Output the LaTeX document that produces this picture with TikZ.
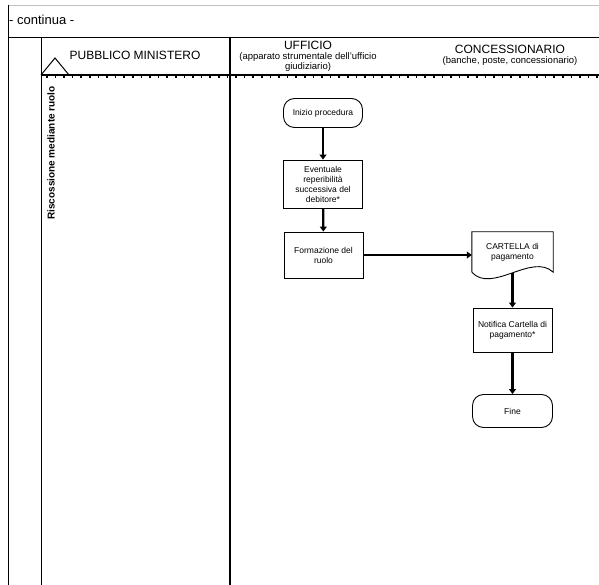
\documentclass[tikz,border=0pt]{standalone}
\usepackage{fontspec}
\setmainfont{Liberation Sans}
\usetikzlibrary{arrows.meta,positioning,calc}
\begin{document}
\begin{tikzpicture}[x=1pt,y=-1pt,
  frame/.style={line width=0.8pt,black},
  lanethick/.style={line width=2pt,black},
  flowbox/.style={draw,line width=0.9pt,minimum width=79pt,align=center,inner sep=1pt,font=\fontsize{8.5}{10}\selectfont},
  termbox/.style={flowbox,rounded corners=11pt},
  flow/.style={line width=2.2pt,-{Triangle[width=7pt,length=5pt]}},
  head/.style={font=\fontsize{12}{13}\selectfont,inner sep=0pt},
  subhead/.style={font=\fontsize{9.5}{10.5}\selectfont,inner sep=0pt,align=center}
]
\useasboundingbox (0,0) rectangle (599,585);
% frame
\draw[gray!50,line width=0.6pt] (8,5) -- (599,5);
\draw[frame] (8,5) -- (8,585);
\draw[frame] (8,37) -- (599,37);
\draw[frame] (41,37) -- (41,585);
\draw[lanethick] (230,37) -- (230,585);
\node[anchor=west,inner sep=0pt,font=\fontsize{13}{14}\selectfont] (cont) at (9,20) {- continua -};
% lane header separator
\draw[line width=1.2pt] (41,75) -- (599,75);
\draw[line width=2.6pt,dash pattern=on 1.6pt off 7pt] (46,77) -- (599,77);
\draw[line width=1pt] (41,75) -- (55,58) -- (69,75);
% headers
\node[head] (pm) at (135,55) {PUBBLICO MINISTERO};
\node[head] (uff) at (308,45.5) {UFFICIO};
\node[subhead,below=2pt of uff] (uffsub) {(apparato strumentale dell'ufficio\\giudiziario)};
\node[head] (conc) at (510,49) {CONCESSIONARIO};
\node[subhead,below=3pt of conc] (concsub) {(banche, poste, concessionario)};
\node[rotate=90,font=\bfseries\fontsize{10}{11}\selectfont,inner sep=0pt] (risc) at (51,153) {Riscossione mediante ruolo};
% nodes
\node[termbox,minimum height=29pt] (inizio) at (323,113) {Inizio procedura};
\node[flowbox,minimum height=48pt] (event) at (323,184) {Eventuale\\reperibilità\\successiva del\\debitore*};
\node[flowbox,minimum height=46pt] (formaz) at (323.5,255) {Formazione del\\ruolo};
\node[minimum width=81pt,minimum height=40pt,inner sep=1pt,align=center,font=\fontsize{8.5}{10}\selectfont] (cart) at (512.5,252) {CARTELLA di\\pagamento};
\draw[line width=0.9pt] (cart.south west) -- (cart.north west) -- (cart.north east) -- (cart.south east)
  .. controls ($(cart.south east)+(-21,-20)$) and ($(cart.south west)+(20,22)$) .. (cart.south west);
\node[flowbox,minimum height=44pt] (notif) at (512.5,330) {Notifica Cartella di\\pagamento*};
\node[termbox,minimum height=33pt,minimum width=80pt] (fine) at (512.5,411) {Fine};
% connectors
\draw[flow] (inizio) -- (event);
\draw[flow] (event) -- (formaz);
\draw[flow] (formaz.east) -- (formaz.east -| cart.west);
\draw[flow] (cart.south) ++(0,1) -- (notif.north);
\draw[flow] (notif) -- (fine);
\end{tikzpicture}
\end{document}
